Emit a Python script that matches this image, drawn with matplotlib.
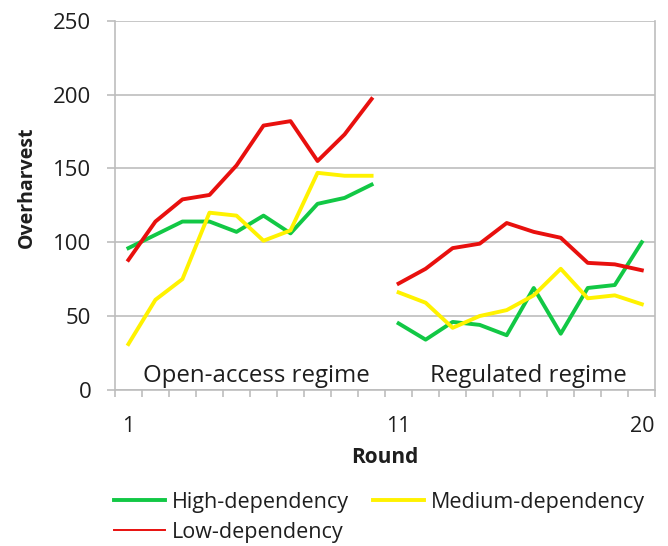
import matplotlib
matplotlib.use("Agg")
import matplotlib.pyplot as plt
from matplotlib.ticker import FixedLocator

# rounds of the two regimes
rounds_open = list(range(1, 11))
rounds_reg = list(range(11, 21))

# overharvest, open-access regime (rounds 1-10)
high_open = [96, 105, 114, 114, 107, 118, 106, 126, 130, 139]
medium_open = [31, 61, 75, 120, 118, 101, 108, 147, 145, 145]
low_open = [88, 114, 129, 132, 152, 179, 182, 155, 173, 197]

# overharvest, regulated regime (rounds 11-20)
high_reg = [45, 34, 46, 44, 37, 69, 38, 69, 71, 100]
medium_reg = [66, 59, 42, 50, 54, 64, 82, 62, 64, 58]
low_reg = [72, 82, 96, 99, 113, 107, 103, 86, 85, 81]

GREEN, YELLOW, RED = "#12C845", "#FFF200", "#E8100E"
GRID = "#BDBDBD"
TXT = "#1E1E1E"
plt.rcParams["font.family"] = ["Open Sans", "DejaVu Sans"]

fig = plt.figure(figsize=(6.68, 5.46), dpi=100)
ax = fig.add_axes([0.172, 0.286, 0.809, 0.676])

lw = 2.8
ax.plot(rounds_open, high_open, color=GREEN, lw=lw, label="High-dependency")
ax.plot(rounds_open, medium_open, color=YELLOW, lw=lw, label="Medium-dependency")
ax.plot(rounds_open, low_open, color=RED, lw=lw, label="Low-dependency")
ax.plot(rounds_reg, high_reg, color=GREEN, lw=lw)
ax.plot(rounds_reg, medium_reg, color=YELLOW, lw=lw)
ax.plot(rounds_reg, low_reg, color=RED, lw=lw)

ax.set_xlim(0.5, 20.5)
ax.set_ylim(0, 250)
ax.set_yticks(range(0, 251, 50))
ax.yaxis.grid(True, color=GRID, lw=1.2)
ax.set_axisbelow(True)
ax.tick_params(axis="y", length=6, width=1.2, color=GRID, labelsize=16, pad=11, labelcolor=TXT)

ax.set_xticks([1, 11, 20])
ax.xaxis.set_minor_locator(FixedLocator([i + 0.5 for i in range(0, 21)]))
ax.tick_params(axis="x", which="major", length=0, labelsize=15.5, pad=19, labelcolor=TXT)
ax.tick_params(axis="x", which="minor", length=5, color=GRID, width=1.2)

for side in ["left", "right", "top", "bottom"]:
    ax.spines[side].set_color(GRID)
    ax.spines[side].set_linewidth(1.2)
ax.spines["top"].set_visible(False)

ax.set_ylabel("Overharvest", fontsize=14, fontweight="bold", color=TXT)
ax.yaxis.set_label_coords(-0.145, 0.549)
ax.set_xlabel("Round", fontsize=15, fontweight="bold", color=TXT, va="top")
ax.xaxis.set_label_coords(0.5, -0.155)

ax.text(5.75, 5, "Open-access regime", fontsize=17.3, ha="center", va="baseline", color=TXT)
ax.text(15.8, 5, "Regulated regime", fontsize=17.3, ha="center", va="baseline", color=TXT)

handles, labels = ax.get_legend_handles_labels()
order = [0, 2, 1]  # legend fills column by column
leg = fig.legend([handles[i] for i in order], [labels[i] for i in order],
                 loc="upper left", bbox_to_anchor=(114 / 668, 0.099), ncol=2, frameon=False,
                 fontsize=15.5, handlelength=2.37, handletextpad=0.33, columnspacing=1.1,
                 labelspacing=0.4, borderaxespad=0, borderpad=0)
leg.legend_handles[1].set_linewidth(1.4)
for t in leg.get_texts():
    t.set_color(TXT)

fig.savefig("out.png", dpi=100)
